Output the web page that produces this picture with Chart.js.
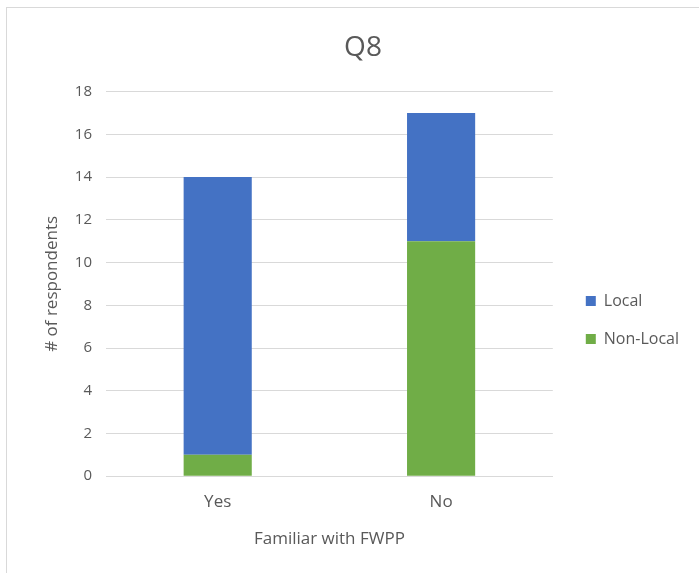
<!DOCTYPE html>
<html>
<head>
<meta charset="utf-8">
<script src="https://cdn.jsdelivr.net/npm/chart.js@4"></script>
<style>
  body { margin: 0; background: #fff; }
  #wrap {
    position: absolute; left: 6px; top: 7px;
    width: 693px; height: 566px;
    border-top: 1px solid #d9d9d9; border-left: 1px solid #d9d9d9;
  }
</style>
</head>
<body>
<div id="wrap"><canvas id="q8Chart" width="692" height="565"></canvas></div>
<script>
// Q8 - familiar with FWPP, stacked by respondent type
var categories = ["Yes", "No"];
var localCounts = [13, 6];
var nonLocalCounts = [1, 11];
var yTicks = [0, 2, 4, 6, 8, 10, 12, 14, 16, 18];

var txtColor = "#595959";
Chart.defaults.font.family = "'Open Sans', 'Liberation Sans', sans-serif";
Chart.defaults.color = txtColor;

function drawChart() {
  var ctx = document.getElementById("q8Chart").getContext("2d");
  var q8Chart = new Chart(ctx, {
    type: "bar",
    data: {
      labels: categories,
      datasets: [
        { label: "Non-Local", data: nonLocalCounts, backgroundColor: "#70ad47" },
        { label: "Local", data: localCounts, backgroundColor: "#4472c4" },
      ],
    },
    options: {
      responsive: false,
      animation: false,
      layout: { padding: { top: 23, left: 30, right: 10, bottom: 24 } },
      datasets: {
        bar: { categoryPercentage: 1, barPercentage: 0.305 },
      },
      plugins: {
        title: {
          display: true,
          text: "Q8",
          color: txtColor,
          font: { size: 28, weight: "normal" },
          padding: { top: 0, bottom: 27 },
        },
        legend: {
          position: "right",
          reverse: true,
          align: "center",
          maxWidth: 200,
          // empty title just pushes the entries down a bit
          title: { display: true, text: " ", font: { size: 10 }, padding: 24 },
          labels: {
            color: txtColor,
            font: { size: 16 },
            boxWidth: 10,
            boxHeight: 10,
            padding: 22,
          },
        },
        tooltip: { enabled: false },
      },
      scales: {
        x: {
          stacked: true,
          grid: { display: false, drawTicks: false },
          border: { color: "#d9d9d9" },
          ticks: { color: txtColor, font: { size: 17 }, padding: 16 },
          title: {
            display: true,
            text: "Familiar with FWPP",
            color: txtColor,
            font: { size: 17 },
            padding: { top: 0, bottom: 0 },
          },
        },
        y: {
          stacked: true,
          min: 0,
          max: 18,
          afterBuildTicks: function (axis) {
            axis.ticks = yTicks.map(function (v) { return { value: v }; });
          },
          afterFit: function (axis) { axis.width = 69; },
          grid: { color: "#d9d9d9", drawTicks: false },
          border: { display: false },
          ticks: { color: txtColor, font: { size: 15 }, padding: 14 },
          title: {
            display: true,
            text: "# of respondents",
            color: txtColor,
            font: { size: 17 },
            padding: { top: 5, bottom: 0 },
          },
        },
        // blank axis, only keeps a gap between bars and legend
        gap: {
          type: "linear",
          position: "right",
          grid: { display: false, drawTicks: false },
          border: { display: false },
          ticks: { display: false },
          afterFit: function (axis) { axis.width = 11; },
        },
      },
    },
  });
}

// make sure the font is ready before the legend measures its text
document.fonts.load("16px 'Open Sans'").then(drawChart, drawChart);
</script>
</body>
</html>
